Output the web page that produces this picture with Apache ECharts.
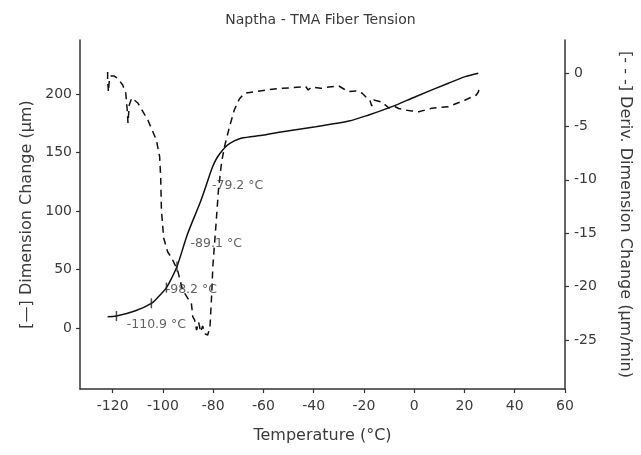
<!DOCTYPE html>
<html><head><meta charset="utf-8">
<script src="https://cdn.jsdelivr.net/npm/echarts@6/dist/echarts.min.js"></script>
<style>html,body{margin:0;padding:0;background:#fff}#c{width:641px;height:455px}</style>
</head><body><div id="c"></div>
<script>
const xTicks = [-120,-100,-80,-60,-40,-20,0,20,40,60];
const leftTicks = [0,50,100,150,200];
const rightTicks = [0,-5,-10,-15,-20,-25];

const dimTemp = [-122.0,-118.5,-111.2,-104.6,-101.7,-98.6,-96.5,-94.4,-90.1,-84.8,-80.2,-78.3,-76.2,-74.2,-71.6,-68.9,-59.7,-52.4,-39.2,-26.0,-18.1,-8.8,0.5,13.6,20.3,25.5];
const dimValue = [9.7,10.3,14.6,21.2,27.0,34.6,42.8,52.5,80.9,109.4,137.9,146.1,152.1,156.4,159.8,162.1,164.9,167.7,172.0,176.8,182.0,189.1,197.6,209.1,214.7,217.6];

const derivTemp = [-122.0,-122.0,-121.7,-121.3,-120.7,-119.5,-117.9,-116.0,-114.8,-114.2,-113.9,-113.4,-112.4,-110.0,-106.0,-102.6,-101.3,-100.9,-100.6,-99.7,-98.1,-96.5,-94.2,-93.0,-92.2,-90.2,-88.7,-88.1,-87.4,-86.6,-85.8,-85.0,-84.2,-83.1,-82.2,-81.3,-80.7,-80.1,-78.9,-77.9,-76.7,-75.5,-73.5,-71.6,-69.6,-67.6,-63.0,-57.7,-52.4,-43.1,-42.2,-40.6,-37.2,-33.9,-30.0,-28.0,-26.0,-23.2,-20.7,-19.2,-17.7,-16.9,-16.1,-12.9,-10.1,-8.2,-6.2,-3.5,-1.0,1.8,7.0,13.6,20.3,24.7,25.5,26.1];
const derivValue = [0.10,-0.65,-1.77,-0.55,-0.27,-0.27,-0.51,-1.12,-1.87,-3.46,-4.68,-2.99,-2.33,-2.80,-4.40,-6.27,-7.86,-9.74,-12.83,-15.45,-16.76,-17.33,-18.45,-19.57,-20.32,-21.07,-21.54,-22.85,-23.13,-24.07,-23.32,-24.26,-23.70,-24.45,-24.54,-23.88,-21.26,-17.98,-14.23,-10.95,-8.42,-6.90,-5.02,-3.46,-2.43,-1.89,-1.74,-1.54,-1.43,-1.28,-1.58,-1.30,-1.43,-1.30,-1.21,-1.49,-1.74,-1.68,-1.89,-2.24,-2.52,-3.08,-2.52,-2.71,-3.27,-3.08,-3.32,-3.46,-3.55,-3.62,-3.30,-3.15,-2.52,-2.05,-1.77,-1.26];

const markerTemps = [-118.5,-104.6,-98.6,-94.4];
const annLabels = ['-110.9 °C','-98.2 °C','-89.1 °C','-79.2 °C'];
const annTemp = [-114.4,-98.9,-89.0,-80.5];
const annLevel = [2.7,32.5,71.8,121.4];

function interp(xs, ys, x) {
  for (let i = 0; i < xs.length - 1; i++) {
    if (x >= xs[i] && x <= xs[i+1]) {
      const t = (x - xs[i]) / (xs[i+1] - xs[i]);
      return ys[i] + t * (ys[i+1] - ys[i]);
    }
  }
  return ys[0];
}

const FONT = 'DejaVu Sans';
const TXT = '#3a3a3a';
const AXC = '#333';

const chart = echarts.init(document.getElementById('c'), null, {renderer: 'canvas'});
chart.setOption({
  animation: false,
  backgroundColor: '#fff',
  textStyle: {fontFamily: FONT, color: TXT},
  title: {
    text: 'Naptha - TMA Fiber Tension',
    left: 'center', top: 8,
    textStyle: {fontFamily: FONT, fontSize: 14, fontWeight: 'normal', color: TXT}
  },
  grid: {left: 80, right: 74, top: 40, bottom: 66},
  xAxis: {
    type: 'value', min: -133, max: 60,
    name: 'Temperature (°C)', nameLocation: 'middle', nameGap: 39,
    nameTextStyle: {fontFamily: FONT, fontSize: 16, color: TXT},
    axisLine: {show: true, onZero: false, lineStyle: {color: AXC, width: 1.5}},
    axisTick: {show: true, length: 4, customValues: xTicks, lineStyle: {color: AXC, width: 1.2}},
    axisLabel: {customValues: xTicks, margin: 10, fontSize: 14, color: TXT, fontFamily: FONT},
    splitLine: {show: false}
  },
  yAxis: [{
    type: 'value', position: 'left', min: -52, max: 246,
    name: '[—] Dimension Change (µm)', nameLocation: 'middle', nameGap: 35,
    nameTextStyle: {fontFamily: FONT, fontSize: 16, color: TXT},
    axisLine: {show: true, onZero: false, lineStyle: {color: AXC, width: 1.5}},
    axisTick: {show: true, length: 4, customValues: leftTicks, lineStyle: {color: AXC, width: 1.2}},
    axisLabel: {customValues: leftTicks, margin: 8, fontSize: 14, color: TXT, fontFamily: FONT},
    splitLine: {show: false}
  }, {
    type: 'value', position: 'right', min: -29.6, max: 3.1,
    name: '[- - -] Deriv. Dimension Change (µm/min)', nameLocation: 'middle', nameGap: 52, nameRotate: -90,
    nameTextStyle: {fontFamily: FONT, fontSize: 16, color: TXT},
    axisLine: {show: true, onZero: false, lineStyle: {color: AXC, width: 1.5}},
    axisTick: {show: true, length: 4, customValues: rightTicks, lineStyle: {color: AXC, width: 1.2}},
    axisLabel: {customValues: rightTicks, margin: 9, fontSize: 14, color: TXT, fontFamily: FONT},
    splitLine: {show: false}
  }],
  series: [{
    name: 'Dimension Change', type: 'line', yAxisIndex: 0,
    data: dimTemp.map((t, i) => [t, dimValue[i]]),
    showSymbol: false, smooth: 0.3,
    lineStyle: {color: '#111', width: 1.5}
  }, {
    name: 'Deriv. Dimension Change', type: 'line', yAxisIndex: 1,
    data: derivTemp.map((t, i) => [t, derivValue[i]]),
    showSymbol: false, smooth: false,
    lineStyle: {color: '#111', width: 1.5, type: [7, 5]}
  }, {
    name: 'markers', type: 'scatter', yAxisIndex: 0,
    data: markerTemps.map(t => [t, interp(dimTemp, dimValue, t)]),
    symbol: 'rect', symbolSize: [1.5, 10],
    itemStyle: {color: '#222'}, z: 5
  }, {
    name: 'annotations', type: 'scatter', yAxisIndex: 0,
    data: annTemp.map((t, i) => ({value: [t, annLevel[i]], name: annLabels[i]})),
    symbolSize: 0,
    label: {show: true, position: 'right', distance: 0, formatter: p => p.name,
      fontFamily: FONT, fontSize: 12.5, color: TXT},
    z: 6
  }]
});
</script>
</body></html>
